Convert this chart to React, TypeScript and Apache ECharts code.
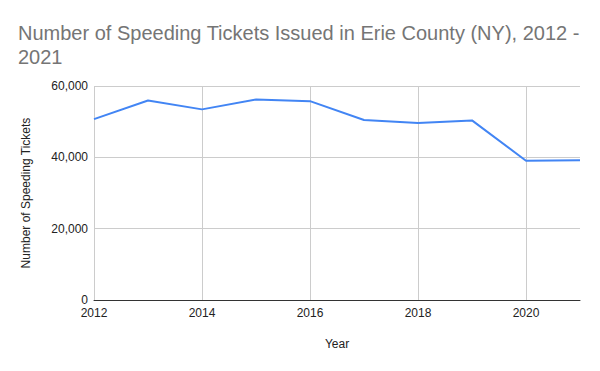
import React, { useEffect, useRef } from "react";
import * as echarts from "echarts";

const years = [2012, 2013, 2014, 2015, 2016, 2017, 2018, 2019, 2020, 2021];
const tickets = [50700, 55950, 53450, 56200, 55750, 50450, 49600, 50350, 39050, 39150];
const titleText = "Number of Speeding Tickets Issued in Erie County (NY), 2012 -\n2021";
const xAxisName = "Year";
const yAxisName = "Number of Speeding Tickets";

export default function App() {
  const ref = useRef<HTMLDivElement>(null);
  useEffect(() => {
    if (!ref.current) return;
    const chart = echarts.init(ref.current, undefined, { renderer: "svg" });
    const font = "'Liberation Sans', Arial, sans-serif";
    chart.setOption({
      animation: false,
      backgroundColor: "#ffffff",
      textStyle: { fontFamily: font },
      title: {
        text: titleText,
        left: 18,
        top: 21,
        padding: 0,
        textStyle: { fontFamily: font, fontSize: 20, fontWeight: "normal", color: "#757575", lineHeight: 24 },
      },
      grid: { left: 94, right: 20, top: 86, bottom: 71, containLabel: false },
      xAxis: {
        type: "value",
        min: 2012,
        max: 2021,
        interval: 2,
        name: xAxisName,
        nameLocation: "middle",
        nameGap: 38,
        nameTextStyle: { fontFamily: font, fontSize: 12, color: "#222222" },
        axisLine: { show: true, onZero: false, lineStyle: { color: "#333333", width: 1 } },
        axisTick: { show: false },
        axisLabel: {
          color: "#222222",
          fontSize: 12,
          margin: 7,
          showMaxLabel: false,
          formatter: (v: number) => (v === 2021 ? "" : String(v)),
        },
        splitLine: {
          show: true,
          lineStyle: { color: ["#cccccc", "#cccccc", "#cccccc", "#cccccc", "#cccccc", "rgba(0,0,0,0)"], width: 1 },
        },
      },
      yAxis: {
        type: "value",
        min: 0,
        max: 60000,
        interval: 20000,
        name: yAxisName,
        nameLocation: "middle",
        nameGap: 62,
        nameTextStyle: { fontFamily: font, fontSize: 12, color: "#222222" },
        axisLine: { show: false },
        axisTick: { show: false },
        axisLabel: {
          color: "#222222",
          fontSize: 12,
          margin: 6,
          formatter: (v: number) => v.toLocaleString("en-US"),
        },
        splitLine: { show: true, lineStyle: { color: "#cccccc", width: 1 } },
      },
      series: [
        {
          type: "line",
          data: years.map((y, i) => [y, tickets[i]]),
          showSymbol: false,
          symbol: "none",
          lineStyle: { color: "#4285F4", width: 2 },
          itemStyle: { color: "#4285F4" },
        },
      ],
    });
    return () => chart.dispose();
  }, []);
  return <div ref={ref} style={{ width: 600, height: 371, position: "absolute", left: 0, top: 0 }} />;
}
